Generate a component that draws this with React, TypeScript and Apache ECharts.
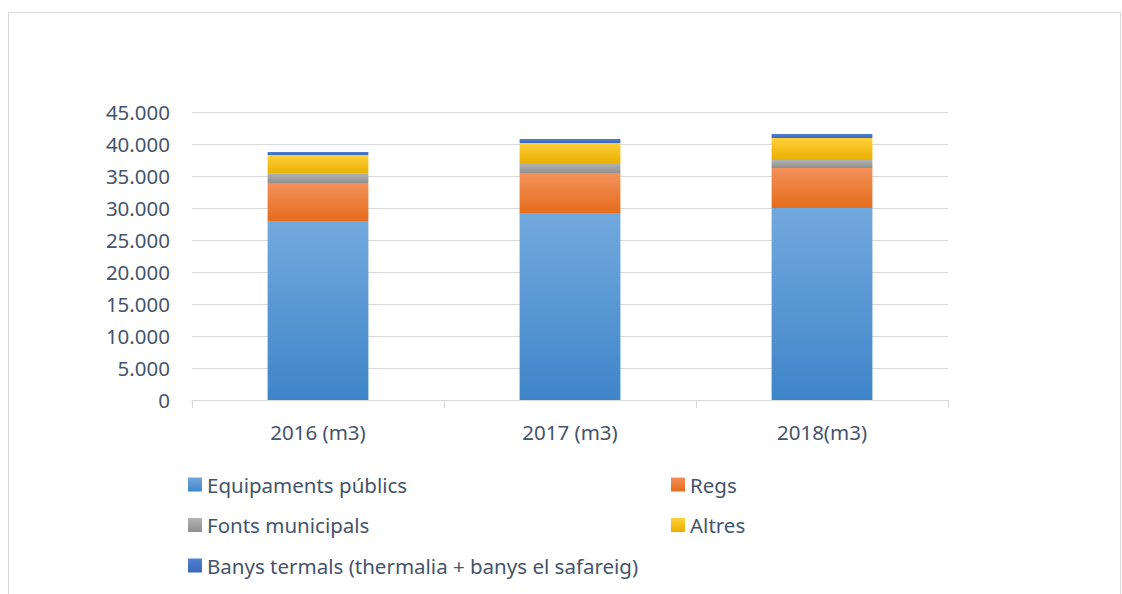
import React, { useEffect, useRef } from "react";
import * as echarts from "echarts";

const categories = ["2016 (m3)", "2017 (m3)", "2018(m3)"];
const equipaments = [27860, 29110, 30000];
const regs = [6050, 6250, 6250];
const fonts = [1450, 1670, 1250];
const altres = [2920, 3125, 3440];
const banys = [470, 625, 625];
const yTicks = [0, 5000, 10000, 15000, 20000, 25000, 30000, 35000, 40000, 45000];

const FONT = "Noto Sans";
const TEXT = "#44546a";
const FS = 20.5;

function grad(top: string, bottom: string) {
  return new echarts.graphic.LinearGradient(0, 0, 0, 1, [
    { offset: 0, color: top },
    { offset: 1, color: bottom },
  ]);
}

export default function App() {
  const ref = useRef<HTMLDivElement>(null);
  useEffect(() => {
    if (!ref.current) return;
    const chart = echarts.init(ref.current, undefined, { renderer: "svg" });
    const mk = (name: string, data: number[], top: string, bottom: string) => ({
      name,
      type: "bar",
      stack: "total",
      data,
      barWidth: "40%",
      itemStyle: { color: grad(top, bottom) },
    });
    const legendText = { color: TEXT, fontFamily: FONT, fontSize: FS, lineHeight: 21 };
    chart.setOption({
      animation: false,
      graphic: [
        {
          type: "rect",
          shape: { x: 8.5, y: 12.5, width: 1112, height: 620 },
          style: { fill: "none", stroke: "#d9d9d9", lineWidth: 1 },
          silent: true,
        },
      ],
      grid: { left: 192, top: 112, width: 756, height: 288, containLabel: false },
      xAxis: {
        type: "category",
        data: categories,
        boundaryGap: true,
        axisLine: { lineStyle: { color: "#d9d9d9", width: 1 } },
        axisTick: { show: true, length: 8, lineStyle: { color: "#d9d9d9" } },
        axisLabel: { color: TEXT, fontFamily: FONT, fontSize: FS, margin: 21 },
      },
      yAxis: {
        type: "value",
        min: yTicks[0],
        max: yTicks[yTicks.length - 1],
        interval: 5000,
        axisLine: { show: false },
        axisTick: { show: false },
        splitLine: { lineStyle: { color: "#d9d9d9", width: 1 } },
        axisLabel: {
          color: TEXT,
          fontFamily: FONT,
          fontSize: FS,
          margin: 22,
          formatter: (v: number) => v.toLocaleString("de-DE"),
        },
      },
      legend: [
        {
          data: ["Equipaments públics", "Fonts municipals", "Banys termals (thermalia + banys el safareig)"],
          orient: "vertical",
          left: 183,
          top: 469,
          itemWidth: 14,
          itemHeight: 14,
          itemGap: 19.5,
          icon: "rect",
          textStyle: legendText,
          selectedMode: false,
        },
        {
          data: ["Regs", "Altres"],
          orient: "vertical",
          left: 666,
          top: 469,
          itemWidth: 14,
          itemHeight: 14,
          itemGap: 19.5,
          icon: "rect",
          textStyle: legendText,
          selectedMode: false,
        },
      ],
      series: [
        mk("Equipaments públics", equipaments, "#72a9dd", "#3f85c9"),
        mk("Regs", regs, "#f39159", "#e56c1c"),
        mk("Fonts municipals", fonts, "#b3b3b3", "#8f8f8f"),
        mk("Altres", altres, "#ffd03a", "#e9b000"),
        mk("Banys termals (thermalia + banys el safareig)", banys, "#5081d2", "#3a68bb"),
      ],
    });
    return () => chart.dispose();
  }, []);
  return (
    <div
      ref={ref}
      style={{ position: "absolute", left: 0, top: 0, width: 1122, height: 594, background: "#fff" }}
    />
  );
}
